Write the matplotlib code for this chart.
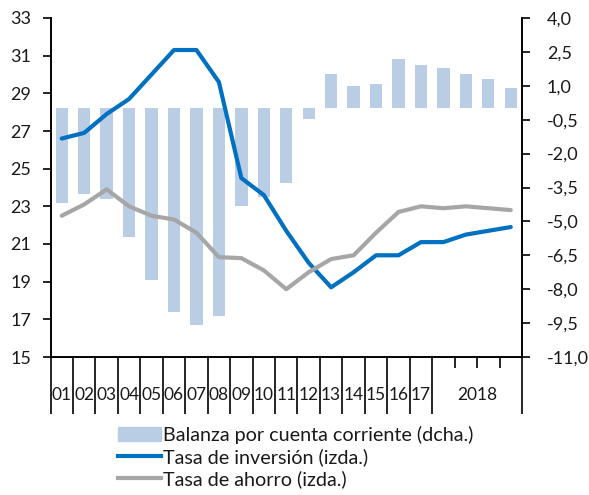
import matplotlib.pyplot as plt
import numpy as np
from matplotlib.lines import Line2D
from matplotlib.patches import Patch
from matplotlib.ticker import FuncFormatter

plt.rcParams["font.family"] = ["Lato", "DejaVu Sans"]

# 2001-2017 annual, 2018 by quarter
year_labels = ["01", "02", "03", "04", "05", "06", "07", "08", "09", "10",
               "11", "12", "13", "14", "15", "16", "17"]
last_year_label = "2018"
n_quarters = 4

balanza = [-4.2, -3.8, -4.0, -5.7, -7.6, -9.0, -9.6, -9.2, -4.3, -3.9,
           -3.3, -0.45, 1.5, 1.0, 1.1, 2.2, 1.9, 1.8, 1.5, 1.3, 0.9]
inversion = [26.6, 26.9, 27.9, 28.7, 30.0, 31.3, 31.3, 29.6, 24.5, 23.6,
             21.7, 20.0, 18.7, 19.5, 20.4, 20.4, 21.1, 21.1, 21.5, 21.7, 21.9]
ahorro = [22.5, 23.1, 23.9, 23.0, 22.5, 22.3, 21.6, 20.3, 20.25, 19.6,
          18.6, 19.5, 20.2, 20.4, 21.6, 22.7, 23.0, 22.9, 23.0, 22.9, 22.8]

c_bar = "#b9cde5"
c_inv = "#0070c0"
c_aho = "#a6a6a6"
c_txt = "#1a1a1a"

fig = plt.figure(figsize=(5.89, 4.95), dpi=100)
ax = fig.add_axes([50.5 / 589, 1 - 357 / 495, (522 - 50.5) / 589, (357 - 18) / 495])
ax2 = ax.twinx()

x = np.arange(len(balanza))
ax2.bar(x, balanza, width=0.55, color=c_bar, zorder=1)
ax2.set_ylim(-11, 4)
ax2.set_yticks(np.arange(-11, 4.01, 1.5))
ax2.yaxis.set_major_formatter(FuncFormatter(lambda v, p: "{:.1f}".format(v).replace(".", ",")))

ax.set_zorder(ax2.get_zorder() + 1)
ax.patch.set_visible(False)
ax.plot(x, inversion, color=c_inv, lw=3, solid_capstyle="round", solid_joinstyle="round")
ax.plot(x, ahorro, color=c_aho, lw=3, solid_capstyle="round", solid_joinstyle="round")
ax.set_ylim(15, 33)
ax.set_yticks(np.arange(15, 33.1, 2))
ax.set_xlim(-0.5, len(balanza) - 0.5)

for a in (ax, ax2):
    a.spines["top"].set_visible(False)
    a.spines["left"].set_linewidth(1.2)
    a.spines["right"].set_linewidth(1.2)
    a.spines["bottom"].set_linewidth(1.2)
ax.tick_params(axis="y", length=6, width=1.2, labelsize=13, pad=8, labelcolor=c_txt)
ax2.tick_params(axis="y", length=6, width=1.2, labelsize=13, pad=12, labelcolor=c_txt)

# multi-level category axis
n_years = len(year_labels)
long_ticks = list(np.arange(n_years + 1) - 0.5) + [len(balanza) - 0.5]
short_ticks = list(np.arange(n_years + 1, n_years + n_quarters) - 0.5)
ax.set_xticks(long_ticks)
ax.set_xticks(short_ticks, minor=True)
ax.tick_params(axis="x", which="major", length=41, width=1.2, labelbottom=False)
ax.tick_params(axis="x", which="minor", length=8, width=1.2, labelbottom=False)
ax2.tick_params(axis="x", length=0, labelbottom=False)

tr = ax.get_xaxis_transform()
for i, lab in enumerate(year_labels):
    ax.text(i, -0.112, lab, transform=tr, ha="center", va="center", fontsize=12.5, color=c_txt)
ax.text(n_years + (n_quarters - 1) / 2, -0.112, last_year_label, transform=tr,
        ha="center", va="center", fontsize=12.5, color=c_txt)

handles = [Patch(color=c_bar), Line2D([], [], color=c_inv, lw=3), Line2D([], [], color=c_aho, lw=3)]
labels = ["Balanza por cuenta corriente (dcha.)", "Tasa de inversión (izda.)", "Tasa de ahorro (izda.)"]
fig.legend(handles, labels, loc="upper left", bbox_to_anchor=(118 / 589, 1 - 426 / 495),
           frameon=False, fontsize=14.2, handlelength=2.2, handletextpad=0.1,
           labelspacing=0.2, borderpad=0, borderaxespad=0, labelcolor=c_txt)

fig.savefig("out.png", dpi=100)
